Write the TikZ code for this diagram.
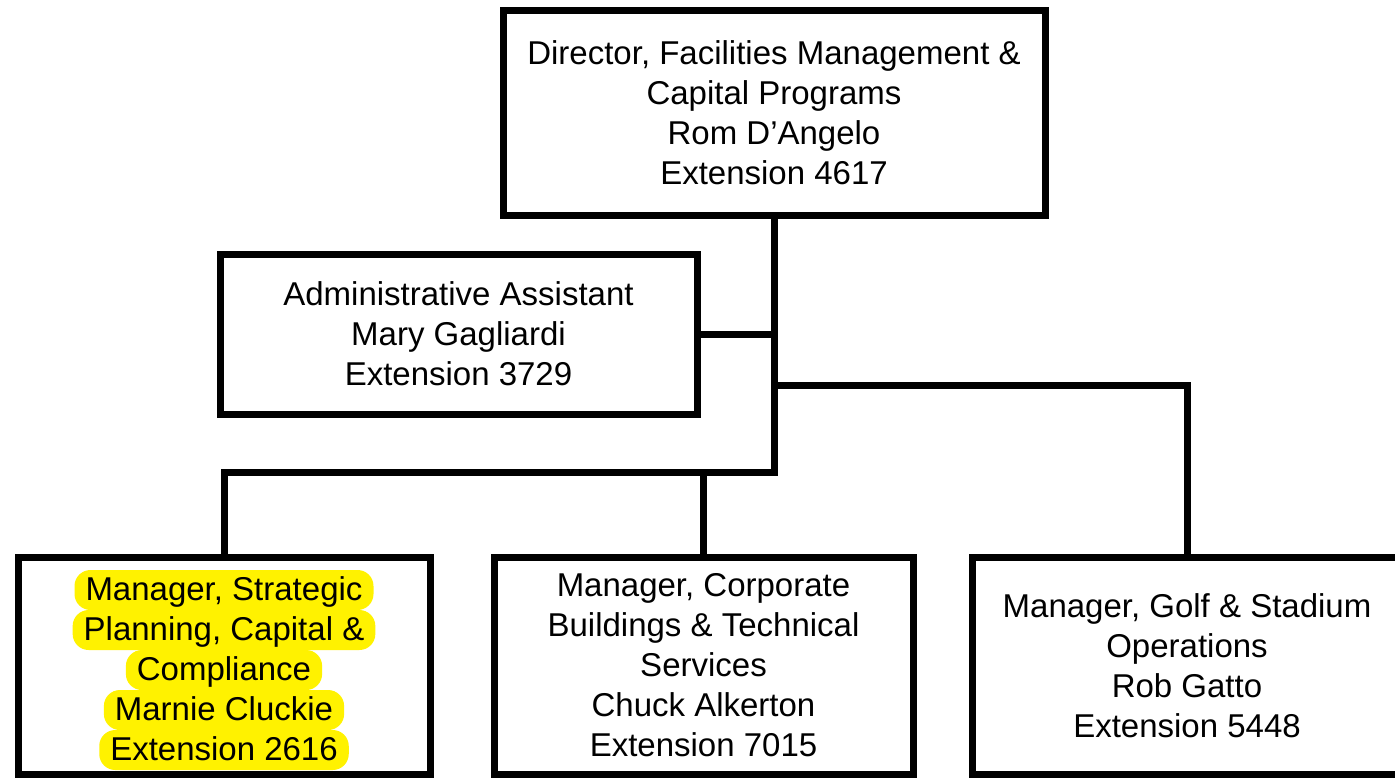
\documentclass[tikz,border=0pt]{standalone}
\usepackage{fontspec}
\setmainfont{Liberation Sans}
\usetikzlibrary{positioning}
\tikzstyle{org-base} = [rectangle, draw=black, line width=3.5pt, align=center,
 text centered, inner sep=0pt, font=\fontsize{16.5pt}{20pt}\selectfont]
\tikzstyle{org-top} = [org-base, minimum width=271pt, minimum height=102.5pt]
\tikzstyle{org-assistant} = [org-base, minimum width=238.5pt, minimum height=80pt]
\tikzstyle{org-manager} = [org-base, minimum height=108.5pt]
\tikzstyle{marker} = [fill=yellow, rounded corners=8pt, inner xsep=5.5pt, inner
ysep=0pt, outer sep=0pt, text height=15pt, text depth=5pt,
 font=\fontsize{16.5pt}{20pt}\selectfont]
\tikzstyle{link} = [line width=3.5pt, line join=miter]

\begin{document}
\begin{tikzpicture}[x=0.5pt, y=-0.5pt]
\useasboundingbox (0,0) rectangle (1395,777);

\node (DIRECTOR) [org-top] at (774,112.5) {Director, Facilities Management \&\\ Capital Programs\\ Rom D’Angelo\\ Extension 4617};

\node (ADMIN) [org-assistant] at (458.5,334) {Administrative Assistant\\ Mary Gagliardi\\ Extension 3729};

% Managers
\node (MGR_STRATEGIC) [org-manager, minimum width=206pt] at (224,665.5) {};
\node (MGR_CORPORATE) [org-manager, minimum width=209.5pt] at (703.5,665.5) {Manager, Corporate\\ Buildings \& Technical\\ Services\\ Chuck Alkerton\\ Extension 7015};
\node (MGR_GOLF) [org-manager, minimum width=215pt] at (1187,665.5) {Manager, Golf \& Stadium\\ Operations\\ Rob Gatto\\ Extension 5448};

% Highlighted lines
\node (STRATEGIC_1) [marker, below=8.25pt of MGR_STRATEGIC.north] {Manager, Strategic};
\node (STRATEGIC_2) [marker, below=0pt of STRATEGIC_1] {Planning, Capital \&};
\node (STRATEGIC_3) [marker, below=0pt of STRATEGIC_2] {Compliance};
\node (STRATEGIC_4) [marker, below=0pt of STRATEGIC_3] {Marnie Cluckie};
\node (STRATEGIC_5) [marker, below=0pt of STRATEGIC_4] {Extension 2616};

% Connectors
\coordinate (GOLF_BRANCH) at (774,385);
\coordinate (TRUNK_END) at (774,472);
\draw[link] (DIRECTOR.south) -- (TRUNK_END) -| (MGR_STRATEGIC.north);
\draw[link] (ADMIN.east) -- (ADMIN.east -| DIRECTOR.south);
\draw[link] (GOLF_BRANCH) -| (MGR_GOLF.north);
\draw[link] (TRUNK_END -| MGR_CORPORATE.north) -- (MGR_CORPORATE.north);

\end{tikzpicture}
\end{document}
